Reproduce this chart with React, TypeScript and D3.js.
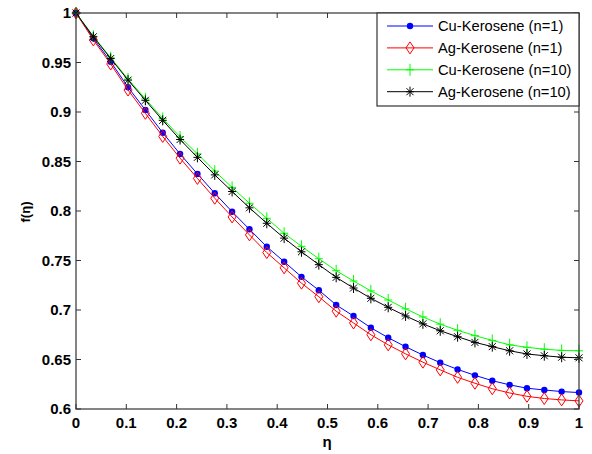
import React from "react";
import * as d3 from "d3";

// eta mesh (30 points) and read-off f(eta) values
const eta = d3.range(30).map((i) => i / 29);

const cuN1 = [
  1, 0.9744, 0.9508, 0.925, 0.902, 0.8791, 0.8576, 0.8375, 0.8179, 0.7993,
  0.7815, 0.7639, 0.7488, 0.7335, 0.72, 0.7051, 0.6939, 0.6821, 0.672, 0.6629,
  0.6545, 0.6468, 0.64, 0.634, 0.6286, 0.6244, 0.621, 0.6192, 0.6176, 0.6166,
];
const agN1 = [
  1, 0.9728, 0.9485, 0.9222, 0.8987, 0.8753, 0.8534, 0.8329, 0.8129, 0.794,
  0.7759, 0.758, 0.7426, 0.7271, 0.7134, 0.6988, 0.6869, 0.675, 0.6648, 0.6557,
  0.6473, 0.6395, 0.632, 0.626, 0.6205, 0.6162, 0.6128, 0.6106, 0.6092, 0.6082,
];
const cuN10 = [
  1, 0.9765, 0.9548, 0.9333, 0.9133, 0.8935, 0.8748, 0.8577, 0.8403, 0.8238,
  0.8078, 0.7926, 0.7775, 0.7643, 0.7518, 0.7397, 0.7293, 0.7193, 0.7101, 0.7012,
  0.693, 0.6857, 0.6795, 0.6741, 0.6693, 0.6648, 0.6623, 0.6604, 0.6592, 0.6588,
];
const agN10 = [
  1, 0.976, 0.954, 0.9322, 0.9118, 0.8916, 0.8722, 0.8542, 0.8365, 0.8197,
  0.8032, 0.7876, 0.7726, 0.7588, 0.7458, 0.733, 0.7222, 0.7118, 0.7027, 0.694,
  0.686, 0.679, 0.673, 0.6673, 0.663, 0.6588, 0.6556, 0.6538, 0.6523, 0.6517,
];

const xTicks = [0, 0.1, 0.2, 0.3, 0.4, 0.5, 0.6, 0.7, 0.8, 0.9, 1];
const yTicks = [0.6, 0.65, 0.7, 0.75, 0.8, 0.85, 0.9, 0.95, 1];

const seriesNames = [
  "Cu-Kerosene (n=1)",
  "Ag-Kerosene (n=1)",
  "Cu-Kerosene (n=10)",
  "Ag-Kerosene (n=10)",
];
const seriesValues = [cuN1, agN1, cuN10, agN10];
const seriesColors = ["#0000ff", "#ff0000", "#00ff00", "#000000"];
const seriesMarkers = ["dot", "diamond", "plus", "star"];

const W = 592;
const H = 454;
const left = 76;
const right = 579;
const top = 13;
const bottom = 409;
const axisColor = "#333333";

function Marker({ type, x, y, color }: { type: string; x: number; y: number; color: string }) {
  if (type === "dot") return <circle cx={x} cy={y} r={3.2} fill={color} />;
  if (type === "diamond")
    return (
      <path
        d={`M${x},${y - 6}L${x + 4},${y}L${x},${y + 6}L${x - 4},${y}Z`}
        fill="none"
        stroke={color}
        strokeWidth={1}
      />
    );
  if (type === "plus")
    return (
      <path d={`M${x - 4},${y}H${x + 4}M${x},${y - 6}V${y + 6}`} stroke={color} strokeWidth={1} />
    );
  return (
    <path
      d={`M${x - 4},${y}H${x + 4}M${x},${y - 5}V${y + 5}M${x - 3.5},${y - 3.5}L${x + 3.5},${y + 3.5}M${x - 3.5},${y + 3.5}L${x + 3.5},${y - 3.5}`}
      stroke={color}
      strokeWidth={1}
    />
  );
}

export default function App() {
  const x = d3.scaleLinear().domain([0, 1]).range([left, right]);
  const y = d3.scaleLinear().domain([0.6, 1]).range([bottom, top]);

  const line = d3
    .line<number>()
    .x((_, i) => x(eta[i]))
    .y((d) => y(d));

  const tickFont = { fontFamily: "Liberation Sans, Arial, sans-serif", fontWeight: "bold" as const, fontSize: 15 };

  const legX = 377;
  const legY = 13;
  const legW = right - legX;
  const legH = 93;

  return (
    <div style={{ position: "absolute", left: 0, top: 0 }}>
      <svg width={W} height={H} style={{ display: "block", background: "#fff" }}>
        <rect x={0} y={0} width={W} height={H} fill="#fff" />

        {/* series */}
        {seriesValues.map((vals, s) => (
          <g key={seriesNames[s]}>
            <path d={line(vals) || ""} fill="none" stroke={seriesColors[s]} strokeWidth={1} />
            {vals.map((v, i) => (
              <Marker key={i} type={seriesMarkers[s]} x={x(eta[i])} y={y(v)} color={seriesColors[s]} />
            ))}
          </g>
        ))}

        {/* axes box */}
        <rect x={left} y={top} width={right - left} height={bottom - top} fill="none" stroke={axisColor} strokeWidth={1.2} />

        {/* x ticks */}
        {xTicks.map((t) => (
          <g key={`x${t}`}>
            <line x1={x(t)} x2={x(t)} y1={bottom} y2={bottom - 5} stroke={axisColor} />
            <line x1={x(t)} x2={x(t)} y1={top} y2={top + 5} stroke={axisColor} />
            <text x={x(t)} y={428} textAnchor="middle" {...tickFont}>
              {d3.format("~g")(t)}
            </text>
          </g>
        ))}

        {/* y ticks */}
        {yTicks.map((t) => (
          <g key={`y${t}`}>
            <line x1={left} x2={left + 5} y1={y(t)} y2={y(t)} stroke={axisColor} />
            <line x1={right} x2={right - 5} y1={y(t)} y2={y(t)} stroke={axisColor} />
            <text x={71} y={y(t)} dy="0.36em" textAnchor="end" {...tickFont}>
              {d3.format("~g")(t)}
            </text>
          </g>
        ))}

        {/* axis labels */}
        <text x={327} y={447} textAnchor="middle" {...tickFont}>
          η
        </text>
        <text
          transform="translate(30,212) rotate(-90)"
          textAnchor="middle"
          fontFamily="Liberation Sans, Arial, sans-serif"
          fontWeight="bold"
          fontSize={13}
        >
          f(η)
        </text>

        {/* legend */}
        <rect x={legX} y={legY} width={legW} height={legH} fill="#fff" stroke={axisColor} strokeWidth={1.2} />
        {seriesNames.map((name, s) => {
          const cy = 26 + s * 21.9;
          return (
            <g key={name}>
              <line x1={387} x2={433} y1={cy} y2={cy} stroke={seriesColors[s]} strokeWidth={1} />
              <Marker type={seriesMarkers[s]} x={410} y={cy} color={seriesColors[s]} />
              <text x={438} y={cy} dy="0.36em" fontFamily="Liberation Sans, Arial, sans-serif" fontSize={14.7}>
                {name}
              </text>
            </g>
          );
        })}
      </svg>
    </div>
  );
}
